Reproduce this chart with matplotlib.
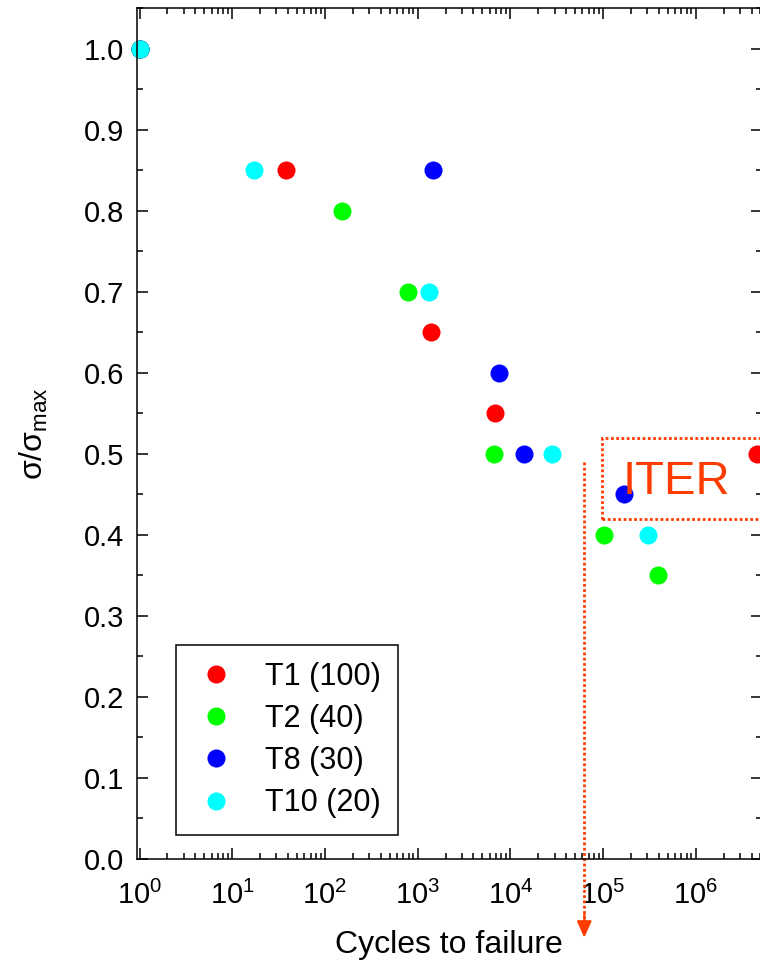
import numpy as np
import matplotlib
matplotlib.use('Agg')
import matplotlib.pyplot as plt
from matplotlib.ticker import MultipleLocator, LogLocator, NullFormatter, FixedLocator
from matplotlib.patches import Rectangle, FancyArrowPatch

plt.rcParams['font.family'] = ['Liberation Sans', 'DejaVu Sans']
plt.rcParams['mathtext.fontset'] = 'custom'
plt.rcParams['mathtext.rm'] = 'Liberation Sans'
plt.rcParams['mathtext.it'] = 'Liberation Sans'
plt.rcParams['mathtext.default'] = 'regular'

# data
labels = ['T1 (100)', 'T2 (40)', 'T8 (30)', 'T10 (20)']
colors = ['#ff0000', '#00ff00', '#0000ff', '#00ffff']

t1_n = [1, 38, 1400, 6840, 4.55e6]
t1_s = [1.0, 0.85, 0.65, 0.55, 0.50]
t2_n = [1, 154, 790, 6670, 1.03e5, 3.92e5]
t2_s = [1.0, 0.80, 0.70, 0.50, 0.40, 0.35]
t8_n = [1, 1470, 7610, 14160, 1.67e5]
t8_s = [1.0, 0.85, 0.60, 0.50, 0.45]
t10_n = [1, 17, 1330, 28000, 3.08e5]
t10_s = [1.0, 0.85, 0.70, 0.50, 0.40]

series_n = [t1_n, t2_n, t8_n, t10_n]
series_s = [t1_s, t2_s, t8_s, t10_s]

x_decades = [1e0, 1e1, 1e2, 1e3, 1e4, 1e5, 1e6]

iter_n = 62800      # ITER cycles (arrow)
iter_box = (9.68e4, 0.42, 0.52)
iter_color = '#ff3c00'

fig = plt.figure(figsize=(7.6, 9.65), dpi=100)
ax = fig.add_axes([136.5/760, 106/965, 625.5/760, 851/965])

for n, s, c, lab in zip(series_n, series_s, colors, labels):
    ax.plot(n, s, 'o', ms=13, color=c, mec='none', label=lab, clip_on=False)

ax.set_xscale('log')
ax.set_xlim(0.928, 5.19e6)
ax.set_ylim(0, 1.05)

ax.yaxis.set_major_locator(MultipleLocator(0.1))
ax.yaxis.set_minor_locator(MultipleLocator(0.05))
ax.yaxis.set_major_formatter(matplotlib.ticker.FormatStrFormatter('%.1f'))
ax.xaxis.set_major_locator(FixedLocator(x_decades))
ax.xaxis.set_minor_locator(LogLocator(base=10, subs=np.arange(2, 10), numticks=20))
ax.xaxis.set_minor_formatter(NullFormatter())

ax.tick_params(which='both', direction='in', top=True, right=True, width=1.1,
               labelsize=21)
ax.tick_params(which='major', length=8)
ax.tick_params(which='minor', length=4.5)
ax.tick_params(axis='x', which='major', pad=16)
ax.tick_params(axis='y', which='major', pad=9)
for sp in ax.spines.values():
    sp.set_linewidth(1.1)

ax.set_xlabel('Cycles to failure', fontsize=23, labelpad=14)
ax.set_ylabel(r'$\sigma/\sigma_{max}$', fontsize=23, labelpad=24)

# ITER box and arrow
ax.add_patch(Rectangle((iter_box[0], iter_box[1]), 1e8 - iter_box[0],
                       iter_box[2] - iter_box[1], fill=False,
                       ec=iter_color, lw=2, ls=(0, (1, 0.9))))
ax.text(1.64e5, 0.45, 'ITER', color=iter_color, fontsize=34,
        ha='left', va='baseline')
ax.plot([iter_n, iter_n], [0.49, -0.075], color=iter_color, lw=2,
        ls=(0, (1, 0.9)), clip_on=False)
head = FancyArrowPatch((iter_n, -0.066), (iter_n, -0.097),
                       arrowstyle='-|>,head_length=10,head_width=4.5',
                       color=iter_color, lw=1.5, shrinkA=0, shrinkB=0,
                       clip_on=False, transform=ax.transData)
ax.add_patch(head)

leg = ax.legend(loc='lower left', bbox_to_anchor=(0.063, 0.028),
                borderaxespad=0, fontsize=22, fancybox=False,
                edgecolor='black', framealpha=1, handlelength=1.5,
                handletextpad=0.86, borderpad=0.55, labelspacing=0.4,
                numpoints=1)
leg.get_frame().set_linewidth(1.1)

fig.savefig('out.png', dpi=100)
